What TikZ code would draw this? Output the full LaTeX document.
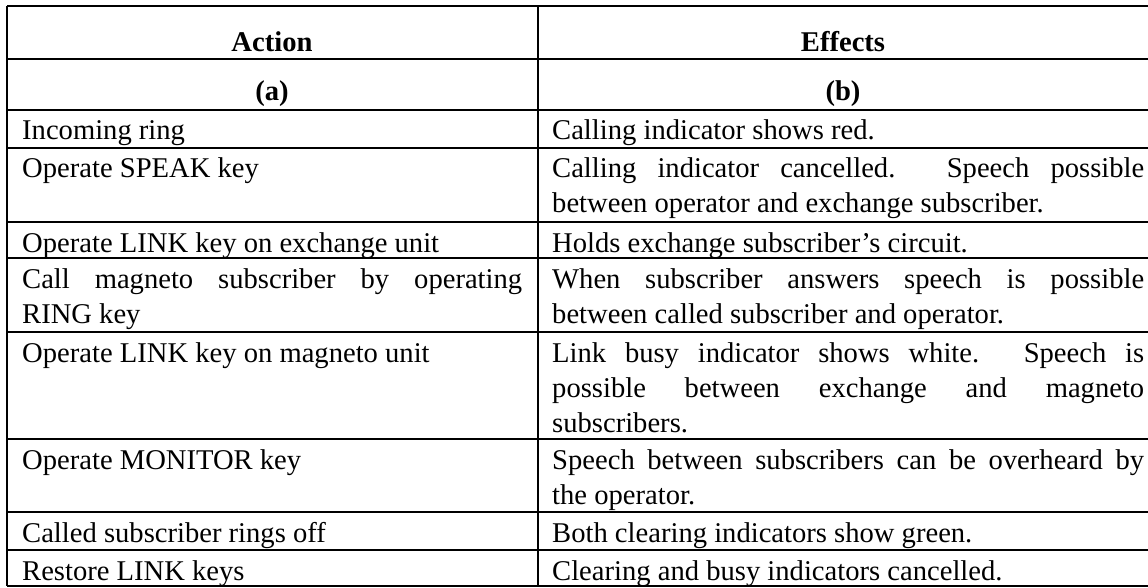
\documentclass[tikz,border=0pt]{standalone}
\usepackage{fontspec}
\setmainfont{Liberation Serif}
\usepackage{tikz}
\newcommand{\cellfont}{\fontsize{28.6}{35}\selectfont}
\tikzset{
  rule/.style={line width=1.6pt,draw=black},
  cellL/.style={anchor=base west,inner sep=0pt,text width=500pt,
                align=justify,font=\cellfont},
  cellR/.style={cellL,text width=592pt},
  head/.style={anchor=base,inner sep=0pt,font=\cellfont\bfseries}
}

\begin{document}
\begin{tikzpicture}[x=1pt,y=-1pt]
  \useasboundingbox (0,0) rectangle (1148,588);
  % table rules
  \foreach \y in {6,59,110,148,222,258,332,439,512,550,586}
    \draw[rule] (7,\y) -- (1148,\y);
  \draw[rule] (7,6) -- (7,586);
  \draw[rule] (538,6) -- (538,586);

  % header
  \node[head] (hact) at (272,52) {Action};
  \node[head] (heff) at (843,52) {Effects};
  \node[head] (ha) at (272,101) {(a)};
  \node[head] (hb) at (843,101) {(b)};

  % actions
  \node[cellL] (a1) at (22,140) {Incoming ring};
  \node[cellL] (a2) at (22,178) {Operate SPEAK key};
  \node[cellL] (a3) at (22,252) {Operate LINK key on exchange unit};
  \node[cellL] (a4) at (22,288) {Call magneto subscriber by operating\linebreak RING key};
  \node[cellL] (a5) at (22,362) {Operate LINK key on magneto unit};
  \node[cellL] (a6) at (22,469) {Operate MONITOR key};
  \node[cellL] (a7) at (22,542) {Called subscriber rings off};
  \node[cellL] (a8) at (22,580) {Restore LINK keys};

  % effects
  \node[cellR] (e1) at (552,140) {Calling indicator shows red.};
  \node[cellR] (e2) at (552,178) {Calling indicator cancelled. Speech possible\linebreak
    between operator and exchange subscriber.};
  \node[cellR] (e3) at (552,252) {Holds exchange subscriber's circuit.};
  \node[cellR] (e4) at (552,288) {When subscriber answers speech is possible\linebreak
    between called subscriber and operator.};
  \node[cellR] (e5) at (552,362) {Link busy indicator shows white. Speech is\linebreak
    possible between exchange and magneto\linebreak subscribers.};
  \node[cellR] (e6) at (552,469) {Speech between subscribers can be overheard by\linebreak
    the operator.};
  \node[cellR] (e7) at (552,542) {Both clearing indicators show green.};
  \node[cellR] (e8) at (552,580) {Clearing and busy indicators cancelled.};
\end{tikzpicture}
\end{document}
